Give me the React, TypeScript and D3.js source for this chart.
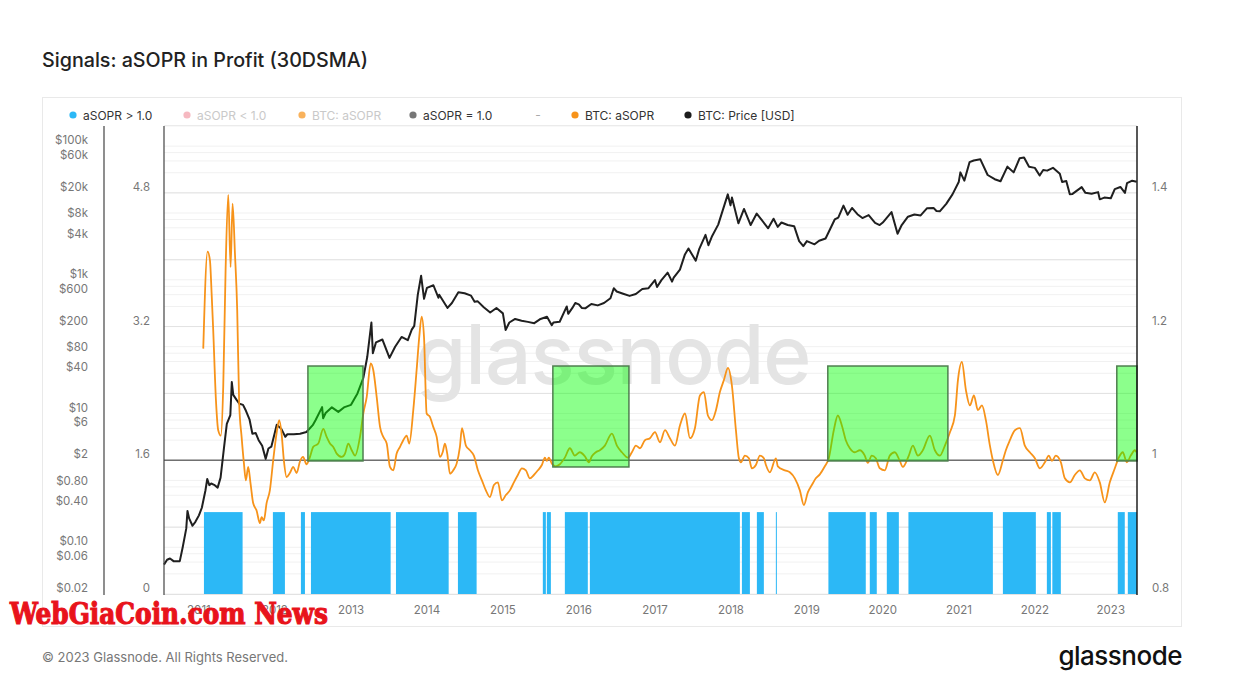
import React, { useLayoutEffect, useRef, useState } from 'react';
import * as d3 from 'd3';

// ---------------- DATA ----------------
// BTC price (USD), [date, price]
const priceData: [string, number][] = [
  ['2010-07-17', 0.055], ['2010-08-01', 0.065], ['2010-08-15', 0.068], ['2010-09-01', 0.062], ['2010-09-15', 0.062],
  ['2010-10-01', 0.062], ['2010-10-15', 0.1], ['2010-11-01', 0.19], ['2010-11-07', 0.35], ['2010-11-15', 0.27],
  ['2010-12-01', 0.21], ['2010-12-15', 0.24], ['2011-01-01', 0.3], ['2011-01-15', 0.39], ['2011-02-01', 0.7],
  ['2011-02-10', 1.05], ['2011-02-20', 0.85], ['2011-03-01', 0.9], ['2011-03-15', 0.86], ['2011-04-01', 0.78],
  ['2011-04-15', 1.1], ['2011-05-01', 3.0], ['2011-05-15', 7.0], ['2011-06-01', 9.5], ['2011-06-08', 29.6],
  ['2011-06-15', 19], ['2011-07-01', 16], ['2011-07-15', 14], ['2011-08-01', 13.5], ['2011-08-15', 11],
  ['2011-09-01', 8.2], ['2011-09-15', 5], ['2011-10-01', 5.1], ['2011-10-15', 4], ['2011-11-01', 3.3],
  ['2011-11-18', 2.1], ['2011-12-01', 3.0], ['2011-12-15', 3.2], ['2012-01-01', 5.2], ['2012-01-10', 6.8],
  ['2012-02-01', 5.9], ['2012-02-20', 4.5], ['2012-03-01', 4.9], ['2012-04-01', 4.9], ['2012-05-01', 5.0],
  ['2012-06-01', 5.3], ['2012-07-01', 6.7], ['2012-07-15', 8.0], ['2012-08-15', 12.5], ['2012-08-20', 8.5],
  ['2012-09-01', 10.2], ['2012-10-01', 12.4], ['2012-11-01', 10.6], ['2012-12-01', 12.5], ['2013-01-01', 13.5],
  ['2013-02-01', 20], ['2013-03-01', 34], ['2013-03-20', 70], ['2013-04-09', 230], ['2013-04-16', 80],
  ['2013-05-01', 116], ['2013-06-01', 128], ['2013-07-05', 68], ['2013-08-01', 100], ['2013-09-01', 140],
  ['2013-10-01', 125], ['2013-10-20', 180], ['2013-11-01', 205], ['2013-11-18', 600], ['2013-12-04', 1150],
  ['2013-12-18', 520], ['2014-01-01', 760], ['2014-02-01', 830], ['2014-02-25', 540], ['2014-03-01', 600],
  ['2014-04-10', 380], ['2014-05-01', 450], ['2014-06-01', 650], ['2014-07-01', 630], ['2014-08-01', 580],
  ['2014-08-18', 470], ['2014-09-01', 480], ['2014-10-01', 390], ['2014-11-01', 325], ['2014-12-01', 380],
  ['2015-01-01', 315], ['2015-01-14', 178], ['2015-02-01', 230], ['2015-03-01', 260], ['2015-04-01', 245],
  ['2015-05-01', 235], ['2015-06-01', 225], ['2015-07-01', 260], ['2015-08-01', 280], ['2015-08-24', 210],
  ['2015-09-01', 230], ['2015-10-01', 236], ['2015-11-04', 400], ['2015-11-11', 310], ['2015-12-01', 380],
  ['2015-12-15', 450], ['2016-01-01', 430], ['2016-01-15', 380], ['2016-02-01', 375], ['2016-03-01', 435],
  ['2016-04-01', 415], ['2016-05-01', 450], ['2016-06-01', 530], ['2016-06-17', 750], ['2016-07-01', 670],
  ['2016-08-01', 620], ['2016-09-01', 575], ['2016-10-01', 615], ['2016-11-01', 730], ['2016-12-01', 750],
  ['2017-01-01', 990], ['2017-01-11', 780], ['2017-02-01', 990], ['2017-03-03', 1280], ['2017-03-24', 940],
  ['2017-04-01', 1080], ['2017-05-01', 1420], ['2017-05-25', 2400], ['2017-06-11', 2950], ['2017-07-16', 1930],
  ['2017-08-01', 2850], ['2017-09-01', 4700], ['2017-09-15', 3300], ['2017-10-01', 4400], ['2017-11-01', 6700],
  ['2017-12-17', 19000], ['2017-12-30', 13000], ['2018-01-06', 17000], ['2018-02-06', 7000], ['2018-03-05', 11500],
  ['2018-04-06', 6600], ['2018-05-05', 9800], ['2018-06-29', 5900], ['2018-07-25', 8200], ['2018-08-14', 6200],
  ['2018-09-01', 7200], ['2018-10-01', 6600], ['2018-11-01', 6350], ['2018-11-25', 3800], ['2018-12-15', 3200],
  ['2019-01-01', 3800], ['2019-02-07', 3400], ['2019-03-01', 3850], ['2019-04-01', 4150], ['2019-04-15', 5100],
  ['2019-05-15', 8000], ['2019-06-01', 8550], ['2019-06-26', 12900], ['2019-07-16', 9400], ['2019-08-06', 11900],
  ['2019-09-01', 9600], ['2019-09-25', 8400], ['2019-10-25', 9300], ['2019-11-25', 7100], ['2019-12-17', 6600],
  ['2020-01-01', 7200], ['2020-02-12', 10300], ['2020-03-12', 4900], ['2020-04-01', 6600], ['2020-05-01', 8800],
  ['2020-06-01', 9500], ['2020-07-01', 9200], ['2020-08-01', 11800], ['2020-09-01', 11900], ['2020-09-15', 10700],
  ['2020-10-01', 10600], ['2020-11-01', 13700], ['2020-12-01', 19000], ['2020-12-31', 29000], ['2021-01-08', 40500],
  ['2021-01-27', 30500], ['2021-02-21', 57500], ['2021-03-13', 61000], ['2021-04-14', 63500], ['2021-05-19', 37000],
  ['2021-06-22', 32000], ['2021-07-20', 29800], ['2021-08-22', 49300], ['2021-09-21', 40500], ['2021-10-20', 66000],
  ['2021-11-10', 67500], ['2021-12-04', 49000], ['2022-01-01', 47300], ['2022-01-24', 36300], ['2022-02-10', 44000],
  ['2022-03-01', 43000], ['2022-03-29', 47400], ['2022-05-01', 38500], ['2022-05-12', 29000], ['2022-06-01', 30000],
  ['2022-06-18', 19000], ['2022-07-01', 19300], ['2022-08-14', 24400], ['2022-09-01', 20000], ['2022-10-01', 19400],
  ['2022-11-01', 20500], ['2022-11-09', 16000], ['2022-12-01', 17000], ['2023-01-01', 16600], ['2023-01-20', 22700],
  ['2023-02-16', 24500], ['2023-03-10', 20000], ['2023-03-20', 28000], ['2023-04-14', 30400], ['2023-05-05', 29300],
];

// aSOPR 30DSMA, [decimal year, value]
const soprData: [number, number][] = [
  [2011.057, 1.167], [2011.114, 1.312], [2011.145, 1.299], [2011.167, 1.25], [2011.188, 1.195], [2011.224, 1.09],
  [2011.254, 1.045], [2011.289, 1.037], [2011.32, 1.11], [2011.351, 1.284], [2011.386, 1.397], [2011.417, 1.289],
  [2011.443, 1.384], [2011.474, 1.31], [2011.504, 1.225], [2011.53, 1.085], [2011.562, 1.035], [2011.592, 0.996],
  [2011.618, 0.97], [2011.649, 0.99], [2011.68, 0.965], [2011.714, 0.936], [2011.759, 0.925], [2011.803, 0.906],
  [2011.825, 0.915], [2011.855, 0.91], [2011.891, 0.936], [2011.934, 0.955], [2011.978, 1.0], [2012.022, 1.04],
  [2012.057, 1.06], [2012.088, 1.04], [2012.118, 1.0], [2012.154, 0.975], [2012.197, 0.981], [2012.241, 0.99],
  [2012.286, 0.981], [2012.329, 0.998], [2012.37, 1.005], [2012.417, 0.994], [2012.461, 1.005], [2012.504, 1.02],
  [2012.57, 1.025], [2012.636, 1.047], [2012.68, 1.035], [2012.724, 1.025], [2012.767, 1.02], [2012.812, 1.01],
  [2012.878, 1.005], [2012.921, 1.01], [2012.964, 1.025], [2013.009, 1.015], [2013.053, 1.007], [2013.118, 1.035],
  [2013.162, 1.07], [2013.207, 1.095], [2013.259, 1.145], [2013.293, 1.135], [2013.338, 1.095], [2013.382, 1.05],
  [2013.425, 1.035], [2013.47, 1.025], [2013.513, 0.99], [2013.557, 0.985], [2013.601, 1.01], [2013.645, 1.02],
  [2013.688, 1.03], [2013.733, 1.037], [2013.767, 1.025], [2013.82, 1.075], [2013.864, 1.135], [2013.899, 1.185],
  [2013.93, 1.215], [2013.961, 1.185], [2013.996, 1.07], [2014.039, 1.065], [2014.083, 1.05], [2014.128, 1.035],
  [2014.171, 1.005], [2014.207, 1.012], [2014.237, 1.025], [2014.267, 1.01], [2014.303, 0.98], [2014.346, 0.985],
  [2014.391, 0.995], [2014.434, 1.02], [2014.461, 1.048], [2014.513, 1.022], [2014.566, 1.015], [2014.618, 1.007],
  [2014.671, 0.985], [2014.724, 0.97], [2014.776, 0.955], [2014.829, 0.945], [2014.882, 0.963], [2014.934, 0.967],
  [2014.987, 0.94], [2015.039, 0.948], [2015.092, 0.955], [2015.145, 0.967], [2015.197, 0.978], [2015.25, 0.988],
  [2015.303, 0.985], [2015.355, 0.973], [2015.408, 0.978], [2015.461, 0.985], [2015.513, 0.993], [2015.553, 1.004],
  [2015.579, 0.999], [2015.605, 1.004], [2015.645, 0.995], [2015.697, 0.991], [2015.75, 0.994], [2015.816, 1.004],
  [2015.882, 1.018], [2015.947, 1.007], [2016.013, 1.012], [2016.079, 1.006], [2016.132, 0.997], [2016.171, 1.006],
  [2016.224, 1.012], [2016.276, 1.015], [2016.342, 1.022], [2016.434, 1.04], [2016.5, 1.022], [2016.566, 1.012],
  [2016.645, 1.004], [2016.697, 1.012], [2016.75, 1.022], [2016.803, 1.018], [2016.868, 1.03], [2016.934, 1.033],
  [2017.0, 1.042], [2017.066, 1.027], [2017.132, 1.045], [2017.197, 1.033], [2017.263, 1.022], [2017.329, 1.052],
  [2017.395, 1.07], [2017.461, 1.033], [2017.526, 1.048], [2017.592, 1.097], [2017.645, 1.102], [2017.697, 1.067],
  [2017.75, 1.06], [2017.803, 1.075], [2017.855, 1.102], [2017.908, 1.12], [2017.961, 1.138], [2018.013, 1.112],
  [2018.066, 1.045], [2018.105, 1.003], [2018.132, 0.997], [2018.184, 1.007], [2018.237, 1.003], [2018.276, 0.988],
  [2018.329, 0.993], [2018.382, 1.007], [2018.434, 1.003], [2018.461, 0.993], [2018.513, 0.982], [2018.592, 1.003],
  [2018.618, 0.991], [2018.711, 0.985], [2018.776, 0.982], [2018.842, 0.973], [2018.908, 0.955], [2018.961, 0.933],
  [2019.013, 0.952], [2019.066, 0.963], [2019.118, 0.973], [2019.171, 0.979], [2019.237, 0.991], [2019.289, 1.003],
  [2019.355, 1.045], [2019.408, 1.067], [2019.461, 1.052], [2019.513, 1.03], [2019.566, 1.018], [2019.632, 1.012],
  [2019.697, 1.015], [2019.763, 1.007], [2019.803, 0.996], [2019.855, 1.007], [2019.908, 1.003], [2019.961, 0.988],
  [2020.026, 0.985], [2020.092, 1.007], [2020.158, 1.012], [2020.224, 0.999], [2020.263, 0.99], [2020.342, 1.007],
  [2020.395, 1.022], [2020.461, 1.007], [2020.526, 1.015], [2020.618, 1.037], [2020.684, 1.015], [2020.75, 1.007],
  [2020.816, 1.022], [2020.882, 1.042], [2020.947, 1.067], [2020.987, 1.12], [2021.039, 1.147], [2021.092, 1.105],
  [2021.145, 1.082], [2021.197, 1.097], [2021.25, 1.075], [2021.303, 1.082], [2021.355, 1.06], [2021.408, 1.022],
  [2021.447, 1.0], [2021.513, 0.978], [2021.579, 1.0], [2021.618, 1.015], [2021.671, 1.03], [2021.737, 1.045],
  [2021.803, 1.048], [2021.868, 1.022], [2021.934, 1.012], [2022.0, 1.003], [2022.066, 0.988], [2022.132, 0.997],
  [2022.184, 1.007], [2022.224, 0.999], [2022.276, 1.007], [2022.342, 0.997], [2022.395, 0.973], [2022.461, 0.967],
  [2022.526, 0.978], [2022.592, 0.985], [2022.658, 0.973], [2022.724, 0.97], [2022.789, 0.982], [2022.855, 0.967],
  [2022.921, 0.937], [2022.987, 0.967], [2023.053, 0.988], [2023.105, 1.004], [2023.158, 1.012], [2023.211, 0.997],
  [2023.263, 1.007], [2023.316, 1.015], [2023.34, 1.012],
];

// periods with aSOPR > 1.0 (decimal years)
const profitPeriods: [number, number][] = [
  [2011.066, 2011.575], [2011.974, 2012.132], [2012.342, 2012.395], [2012.474, 2013.522], [2013.592, 2014.286],
  [2014.408, 2014.654], [2015.526, 2015.566], [2015.579, 2015.632], [2015.816, 2016.118], [2016.145, 2018.118],
  [2018.145, 2018.25], [2018.342, 2018.434], [2018.592, 2018.605], [2019.284, 2019.776], [2019.829, 2019.921],
  [2020.053, 2020.211], [2020.337, 2021.447], [2021.579, 2022.013], [2022.158, 2022.211], [2022.23, 2022.342],
  [2023.092, 2023.184], [2023.224, 2023.345],
];
const profitBarValue = 0.98;

// signal zones: [start, end, low aSOPR, high aSOPR]
const signalZones: [number, number, number, number][] = [
  [2012.434, 2013.158, 0.999, 1.141],
  [2015.658, 2016.658, 0.99, 1.141],
  [2019.276, 2020.855, 0.999, 1.141],
  [2023.079, 2023.345, 0.999, 1.141],
];

const priceTicks = [100000, 60000, 20000, 8000, 4000, 1000, 600, 200, 80, 40, 10, 6, 2, 0.8, 0.4, 0.1, 0.06, 0.02];
const priceTickLabels = ['$100k', '$60k', '$20k', '$8k', '$4k', '$1k', '$600', '$200', '$80', '$40', '$10', '$6', '$2', '$0.80', '$0.40', '$0.10', '$0.06', '$0.02'];
const leftTicks = [4.8, 3.2, 1.6, 0];
const rightTicks = [1.4, 1.2, 1, 0.8];
const rightGrid = [0.9, 1.0, 1.1, 1.2, 1.3, 1.4];
const yearTicks = [2011, 2012, 2013, 2014, 2015, 2016, 2017, 2018, 2019, 2020, 2021, 2022, 2023];
const legendLabels = ['aSOPR > 1.0', 'aSOPR < 1.0', 'BTC: aSOPR', 'aSOPR = 1.0', '-', 'BTC: aSOPR', 'BTC: Price [USD]'];
const legendColors = ['#2cb8f6', '#f6b9c1', '#f9b25c', '#777777', '', '#f7931a', '#1c1c1c'];
const legendFaded = [false, true, true, false, false, false, false];
const overlayText = 'WebGiaCoin.com News';

// ---------------- CHART ----------------
const FONT = 'Inter, "Noto Sans", sans-serif';
const yearToDate = (y: number) => {
  const yr = Math.floor(y);
  const a = Date.UTC(yr, 0, 1), b = Date.UTC(yr + 1, 0, 1);
  return new Date(a + (y - yr) * (b - a));
};

export default function App() {
  const L = 164, R = 1137, T = 126, B = 594;
  const x = d3.scaleUtc().domain([yearToDate(2010.54), yearToDate(2023.345)]).range([L, R]);
  const yPrice = d3.scaleLog().domain([0.02, 200000]).range([B, T]);
  const yLeft = d3.scaleLinear().domain([0, 5.6]).range([B, T]);
  const yRight = d3.scaleLinear().domain([0.8, 1.5]).range([B, T]);

  const overlayRef = useRef<SVGTextElement | null>(null);
  const [overlayScale, setOverlayScale] = useState(1);
  useLayoutEffect(() => {
    const el = overlayRef.current;
    if (el) {
      const w = el.getComputedTextLength();
      if (w > 0) setOverlayScale(318 / w);
    }
  }, []);

  const priceLine = d3.line<[string, number]>()
    .x(d => x(new Date(d[0] + 'T00:00:00Z')))
    .y(d => yPrice(d[1]))
    .curve(d3.curveLinear);
  const soprLine = d3.line<[number, number]>()
    .x(d => x(yearToDate(d[0])))
    .y(d => yRight(d[1]))
    .curve(d3.curveMonotoneX);

  // faint log grid: 1,2,4,6,8 x 10^n
  const faint: number[] = [];
  for (let e = -2; e <= 5; e++) {
    for (const m of [1, 2, 4, 6, 8]) {
      const v = m * Math.pow(10, e);
      if (v >= 0.02 && v <= 200000) faint.push(v);
    }
  }

  const legendX = [73, 187, 302, 413, 538, 575, 688];

  return (
    <svg width={1252} height={695} style={{ position: 'absolute', left: 0, top: 0, background: '#fff' }} fontFamily={FONT}>
      <rect x={0} y={0} width={1252} height={695} fill="#fff" />
      <text x={42} y={67} fontSize={19.7} fill="#222" fontWeight={500}>Signals: aSOPR in Profit (30DSMA)</text>

      {/* card */}
      <rect x={42.5} y={97.5} width={1139} height={529} fill="none" stroke="#e9e9e9" strokeWidth={1} />

      {/* legend */}
      {legendLabels.map((lab, i) => {
        const cx = legendX[i];
        if (lab === '-') {
          return <text key={i} x={cx} y={119} fontSize={12} fill="#aaa" textAnchor="middle">-</text>;
        }
        return (
          <g key={i}>
            <circle cx={cx} cy={115} r={3.6} fill={legendColors[i]} />
            <text x={cx + 10} y={119.5} fontSize={12} fill={legendFaded[i] ? '#c9c9c9' : '#333'}>{lab}</text>
          </g>
        );
      })}

      {/* grid */}
      <line x1={L} x2={R} y1={125.5} y2={125.5} stroke="#e6e6e6" />
      {faint.map((v, i) => (
        <line key={'f' + i} x1={L} x2={R} y1={yPrice(v)} y2={yPrice(v)} stroke="#f1f1f1" strokeWidth={1} />
      ))}
      {rightGrid.map((v, i) => (
        <line key={'g' + i} x1={L} x2={R} y1={yRight(v)} y2={yRight(v)} stroke="#e2e2e2" strokeWidth={1} />
      ))}
      <line x1={L} x2={R} y1={B + 0.5} y2={B + 0.5} stroke="#e2e2e2" />

      {/* watermark */}
      <text x={613} y={384} fontSize={82} fill="#e4e4e4" textAnchor="middle" fontWeight={500} letterSpacing={-1}>glassnode</text>

      {/* profit bars */}
      {profitPeriods.map((p, i) => {
        const x0 = x(yearToDate(p[0])), x1 = x(yearToDate(p[1]));
        return <rect key={'b' + i} x={x0} y={yLeft(profitBarValue)} width={Math.max(1, x1 - x0)} height={B - yLeft(profitBarValue)} fill="#2cb8f6" />;
      })}

      {/* aSOPR = 1 line */}
      <line x1={L} x2={R} y1={yRight(1)} y2={yRight(1)} stroke="#707070" strokeWidth={1.6} />

      {/* price line */}
      <path d={priceLine(priceData) || ''} fill="none" stroke="#1f1f1f" strokeWidth={2} strokeLinejoin="round" />
      {/* aSOPR line */}
      <path d={soprLine(soprData) || ''} fill="none" stroke="#f7931a" strokeWidth={1.8} strokeLinejoin="round" />

      {/* signal zones */}
      {signalZones.map((z, i) => {
        const x0 = x(yearToDate(z[0])), x1 = Math.min(R, x(yearToDate(z[1])));
        const y0 = yRight(z[3]), y1 = yRight(z[2]);
        return <rect key={'z' + i} x={x0} y={y0} width={x1 - x0} height={y1 - y0} fill="rgba(0,255,0,0.45)" stroke="#4f7f4f" strokeWidth={1.5} />;
      })}

      {/* axes lines */}
      <line x1={104} x2={104} y1={126} y2={595} stroke="#444" strokeWidth={1.2} />
      <line x1={L} x2={L} y1={126} y2={595} stroke="#444" strokeWidth={1.2} />
      <line x1={R} x2={R} y1={126} y2={595} stroke="#111" strokeWidth={1.4} />

      {/* price ticks */}
      {priceTicks.map((v, i) => (
        <text key={'p' + i} x={88} y={yPrice(v) - 2} fontSize={11.5} fill="#777" textAnchor="end">{priceTickLabels[i]}</text>
      ))}
      {leftTicks.map((v, i) => (
        <text key={'l' + i} x={150} y={yLeft(v) - 2} fontSize={11.5} fill="#777" textAnchor="end">{String(v)}</text>
      ))}
      {rightTicks.map((v, i) => (
        <text key={'r' + i} x={1152} y={yRight(v) - 2} fontSize={11.5} fill="#777">{String(v)}</text>
      ))}
      {yearTicks.map((yy, i) => (
        <text key={'y' + i} x={x(new Date(Date.UTC(yy, 0, 1)))} y={614} fontSize={11.5} fill="#777" textAnchor="middle">{String(yy)}</text>
      ))}

      {/* footer */}
      <text x={42} y={662} fontSize={13} fill="#777">© 2023 Glassnode. All Rights Reserved.</text>
      <text x={1182} y={665} fontSize={26} fill="#111" textAnchor="end" fontWeight={500} letterSpacing={-0.5}>glassnode</text>

      {/* overlay watermark */}
      <g transform={`translate(10,624) scale(${overlayScale},1)`}>
        <text ref={overlayRef} x={0} y={0} fontSize={29} fill="#e8131b" stroke="#e8131b" strokeWidth={1.1} fontWeight={700} fontFamily='"DejaVu Serif Condensed", "DejaVu Serif", serif'>{overlayText}</text>
      </g>
    </svg>
  );
}
